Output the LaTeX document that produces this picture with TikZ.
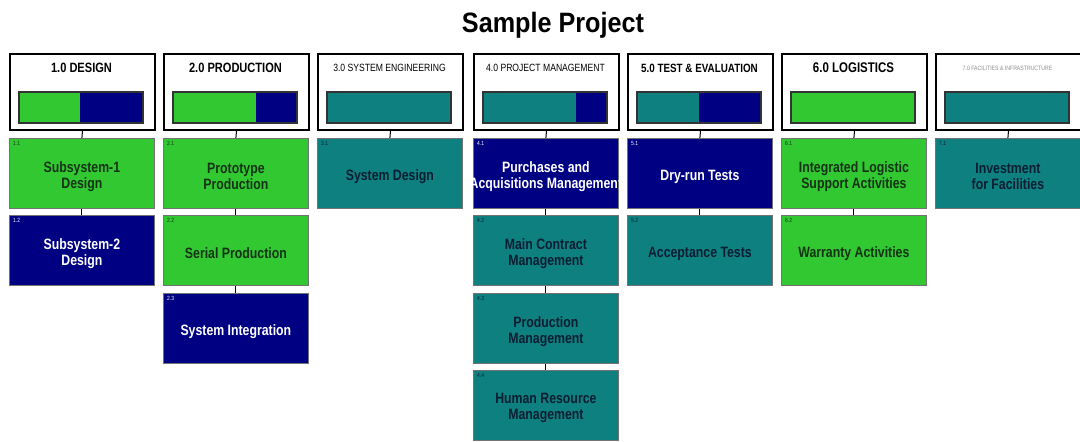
\documentclass[tikz,border=0pt]{standalone}
\usepackage{fontspec}
\setmainfont{Liberation Sans}
\newfontfamily\nar[FakeStretch=0.82]{Liberation Sans}
\newfontfamily\ttlfont[FakeStretch=0.9]{Liberation Sans}
\definecolor{wgreen}{RGB}{50,200,50}
\definecolor{wnavy}{RGB}{0,0,130}
\definecolor{wteal}{RGB}{15,128,128}
\definecolor{gtext}{RGB}{20,50,20}
\definecolor{ttext}{RGB}{10,30,50}
\newcommand\cbx[7]{%
  \node[cbox, fill=#4] (#1) at (#2,#3) {};
  \node[num, text=#5] at ([xshift=4pt,yshift=-3pt]#1.north west) {#6};
  \node[ctext, text=#5] at ([yshift=-3pt]#1.center) {#7};}
\newcommand\hd[6]{%
  \node[hdr] (#1) at (#2,53) {};
  \fill[#3] ({#2+10},92) rectangle ({#2+10+124*#5},123);
  \fill[#4] ({#2+10+124*#5},92) rectangle ({#2+134},123);
  \draw[black!80, line width=1.5pt] ({#2+10},92) rectangle ({#2+134},123);
  \node[inner sep=0] (#1t) at ({#2+72.5},68) {#6};}
\begin{document}
\begin{tikzpicture}[x=1pt,y=-1pt,
  hdr/.style={draw=black, line width=2pt, fill=white, minimum width=145pt, minimum height=76pt, inner sep=0, anchor=north west},
  cbox/.style={draw=black!55, line width=0.8pt, minimum width=145pt, minimum height=70pt, inner sep=0, anchor=north west},
  ctext/.style={font=\nar\bfseries\fontsize{15}{16}\selectfont, align=center, inner sep=0},
  num/.style={font=\nar\fontsize{6}{6}\selectfont, anchor=north west, inner sep=0},
  link/.style={draw=black, line width=1pt}]
\useasboundingbox (0,0) rectangle (1080,442);
\node[font=\ttlfont\bfseries\fontsize{28}{30}\selectfont, inner sep=0] (title) at (553,25) {Sample Project};
% headers
\hd{h1}{9}{wgreen}{wnavy}{0.49}{\nar\bfseries\fontsize{13.5}{14}\selectfont 1.0 DESIGN}
\hd{h2}{163}{wgreen}{wnavy}{0.67}{\nar\bfseries\fontsize{13.5}{14}\selectfont 2.0 PRODUCTION}
\hd{h3}{317}{wteal}{wnavy}{1}{\nar\fontsize{10.5}{11}\selectfont 3.0 SYSTEM ENGINEERING}
\hd{h4}{473}{wteal}{wnavy}{0.75}{\nar\fontsize{10.5}{11}\selectfont 4.0 PROJECT MANAGEMENT}
\hd{h5}{627}{wteal}{wnavy}{0.5}{\nar\bfseries\fontsize{12}{13}\selectfont 5.0 TEST \& EVALUATION}
\hd{h6}{781}{wgreen}{wnavy}{1}{\nar\bfseries\fontsize{14}{15}\selectfont 6.0 LOGISTICS}
\hd{h7}{935}{wteal}{wnavy}{1}{\nar\fontsize{6.3}{7}\selectfont\color{black!45} 7.0 FACILITIES \& INFRASTRUCTURE}
% children
\cbx{c11}{9}{138}{wgreen}{gtext}{1.1}{Subsystem-1\\Design}
\cbx{c12}{9}{215}{wnavy}{white}{1.2}{Subsystem-2\\Design}
\cbx{c21}{163}{138}{wgreen}{gtext}{2.1}{Prototype\\Production}
\cbx{c22}{163}{215}{wgreen}{gtext}{2.2}{Serial Production}
\cbx{c23}{163}{293}{wnavy}{white}{2.3}{System Integration}
\cbx{c31}{317}{138}{wteal}{ttext}{3.1}{System Design}
\cbx{c41}{473}{138}{wnavy}{white}{4.1}{Purchases and\\Acquisitions Management}
\cbx{c42}{473}{215}{wteal}{ttext}{4.2}{Main Contract\\Management}
\cbx{c43}{473}{293}{wteal}{ttext}{4.3}{Production\\Management}
\cbx{c44}{473}{370}{wteal}{ttext}{4.4}{Human Resource\\Management}
\cbx{c51}{627}{138}{wnavy}{white}{5.1}{Dry-run Tests}
\cbx{c52}{627}{215}{wteal}{ttext}{5.2}{Acceptance Tests}
\cbx{c61}{781}{138}{wgreen}{gtext}{6.1}{Integrated Logistic\\Support Activities}
\cbx{c62}{781}{215}{wgreen}{gtext}{6.2}{Warranty Activities}
\cbx{c71}{935}{138}{wteal}{ttext}{7.1}{Investment\\for Facilities}
% connectors
\draw[link] (h1.south) -- (c11.north);
\draw[link] (c11.south) -- (c12.north);
\draw[link] (h2.south) -- (c21.north);
\draw[link] (c21.south) -- (c22.north);
\draw[link] (c22.south) -- (c23.north);
\draw[link] (h3.south) -- (c31.north);
\draw[link] (h4.south) -- (c41.north);
\draw[link] (c41.south) -- (c42.north);
\draw[link] (c42.south) -- (c43.north);
\draw[link] (c43.south) -- (c44.north);
\draw[link] (h5.south) -- (c51.north);
\draw[link] (c51.south) -- (c52.north);
\draw[link] (h6.south) -- (c61.north);
\draw[link] (c61.south) -- (c62.north);
\draw[link] (h7.south) -- (c71.north);
\end{tikzpicture}
\end{document}
